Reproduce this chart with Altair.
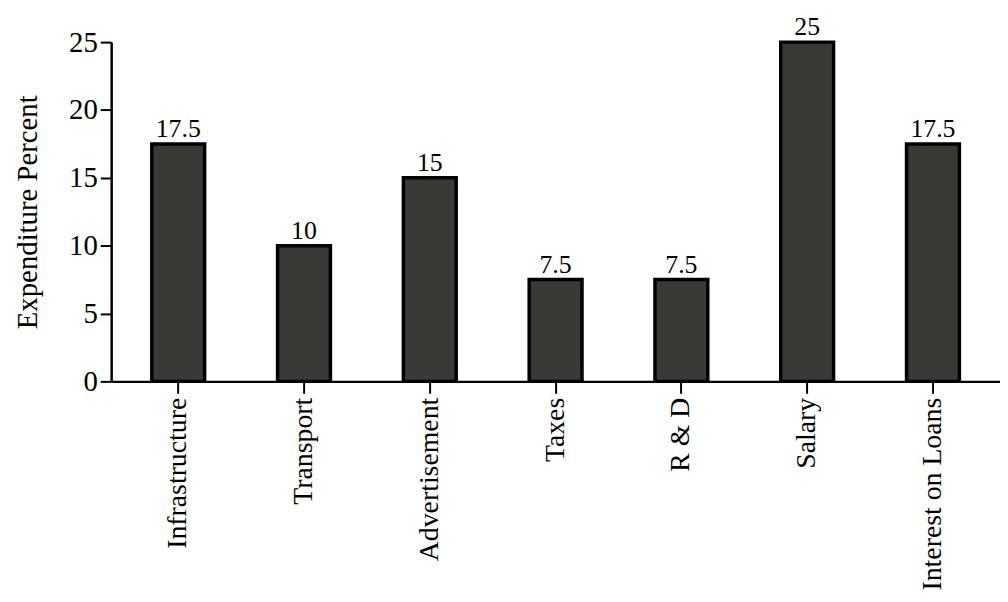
import altair as alt
import pandas as pd

categories = ["Infrastructure", "Transport", "Advertisement", "Taxes", "R & D", "Salary", "Interest on Loans"]
values = [17.5, 10, 15, 7.5, 7.5, 25, 17.5]
labels = ["17.5", "10", "15", "7.5", "7.5", "25", "17.5"]
y_ticks = [0, 5, 10, 15, 20, 25]

df = pd.DataFrame({"cat": categories, "val": values, "lab": labels})

FONT = "Liberation Serif"

x = alt.X("cat:N", sort=categories, title=None,
          scale=alt.Scale(paddingInner=0.58, paddingOuter=0.323),
          axis=alt.Axis(labelAngle=-90, labelFontSize=28, labelFont=FONT, labelColor="black",
                        tickSize=12, tickWidth=2, tickColor="black", labelPadding=4,
                        domainColor="black", domainWidth=2.5, labelLimit=400))
y = alt.Y("val:Q", title="Expenditure Percent",
          scale=alt.Scale(domain=[0, 25], nice=False),
          axis=alt.Axis(values=y_ticks, labelFontSize=29, labelFont=FONT, labelColor="black",
                        titleFontSize=29, titleFont=FONT, titleFontWeight="normal", titleColor="black",
                        titlePadding=26, tickSize=11, tickWidth=2, tickColor="black",
                        domainColor="black", domainWidth=2.5, grid=False, labelPadding=3))

bars = alt.Chart(df).mark_bar(color="#3a3936", stroke="black", strokeWidth=3.5).encode(x=x, y=y)
text = alt.Chart(df).mark_text(baseline="bottom", dy=-2, fontSize=26, font=FONT, color="black").encode(
    x=alt.X("cat:N", sort=categories), y="val:Q", text="lab:N")

chart = (bars + text).properties(
    width=896, height=342,
    background="white",
    autosize=alt.AutoSizeParams(type="none"),
    padding={"left": 104, "top": 32, "right": 0, "bottom": 218},
).configure_view(stroke=None, strokeWidth=0)

chart.save("out.html", embed_options={"renderer": "svg", "actions": False})
